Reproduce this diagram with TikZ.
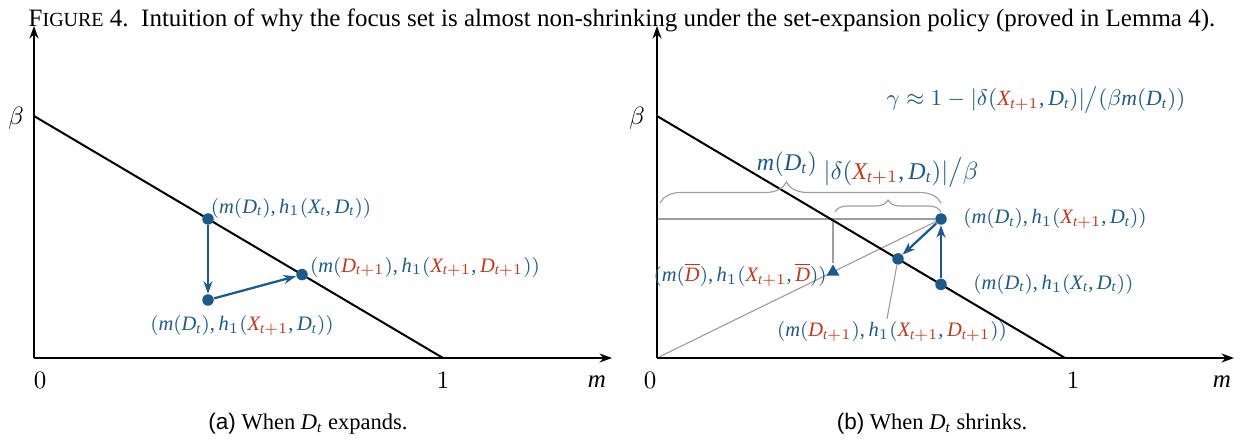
\documentclass[tikz,border=0pt]{standalone}
\usepackage{amsmath}
\usepackage{fontspec}
\setmainfont{Liberation Serif}[NFSSFamily=libserif]
\newfontfamily\subcapfont{Liberation Sans}
% Times-like letters in math
\DeclareSymbolFont{letters}{TU}{libserif}{m}{it}
\DeclareSymbolFont{operators}{TU}{libserif}{m}{n}
\DeclareSymbolFont{grk}{OML}{cmm}{m}{it}
\DeclareMathSymbol{\beta}{\mathalpha}{grk}{"0C}
\DeclareMathSymbol{\gamma}{\mathalpha}{grk}{"0D}
\DeclareMathSymbol{\delta}{\mathalpha}{grk}{"0E}
\mathcode`\,="602C
\mathcode`\/="002F
\delcode`\/="02F30E
\usepackage{tikz}
\usetikzlibrary{arrows.meta,positioning,calc,shapes.geometric,decorations.pathreplacing,backgrounds}
\definecolor{ptblue}{HTML}{1B5A8A}
\definecolor{ptred}{HTML}{C2381B}
\definecolor{guidegray}{HTML}{9E9E9E}
\newcommand{\rd}[1]{{\color{ptred}#1}}

\begin{document}
\begin{tikzpicture}[x=0.4pt, y=0.4pt,
  axis/.style={-{Stealth[length=5pt, width=3.6pt]}, line width=0.8pt},
  budget/.style={line width=0.8pt},
  dot/.style={circle, fill=ptblue, inner sep=0pt, minimum size=4.6pt},
  tri/.style={regular polygon, regular polygon sides=3, fill=ptblue, inner sep=0pt, minimum size=6pt},
  move/.style={-{Stealth[length=5pt, width=3.6pt]}, line width=0.9pt, ptblue},
  guide/.style={guidegray, line width=0.45pt},
  brc/.style={guidegray, line width=0.45pt, decorate, decoration={brace, #1}},
  lbl/.style={text=ptblue, font=\fontsize{8.2}{10}\selectfont, inner sep=1pt},
  big/.style={text=ptblue, font=\fontsize{9.6}{11}\selectfont, inner sep=1pt},
  tick/.style={font=\normalsize, inner sep=0pt}
]
  \useasboundingbox (0,0) rectangle (1240,440);

  \node (fig) at (622,420) {F{\footnotesize IGURE} 4.\enspace Intuition of why the focus set is almost non-shrinking under the set-expansion policy (proved in Lemma 4).};

  % (a) D_t expands
  \coordinate (oa) at (34,82);
  \coordinate (ya) at (34,414);
  \coordinate (xa) at (612,82);
  \coordinate (ba) at (34,324);
  \coordinate (ea) at (443,82);
  \draw[axis] (oa) -- (ya);
  \draw[axis] (oa) -- (xa);
  \draw[budget] (ba) -- (ea);

  \node[tick] (za) at (40,60) {$0$};
  \node[tick] (una) at (443,60) {$1$};
  \node[tick] (ma) at (597,58) {$m$};
  \node[tick] (betaa) at (16,322) {$\beta$};

  \node[dot] (pa1) at (208,221) {};
  \node[dot] (pa2) at (208,140) {};
  \node[dot] (pa3) at (302,165.4) {};
  \draw[move] (pa1) -- (pa2);
  \draw[move] (pa2) -- (pa3);

  \node[lbl, above right=-2.6pt and -1.8pt of pa1] (la1) {$(m(D_t), h_1(X_t, D_t))$};
  \node[lbl, right=-0.5pt of pa3, yshift=3pt] (la3) {$(m(\rd{D_{t+1}}), h_1(\rd{X_{t+1}}, \rd{D_{t+1}}))$};
  \node[lbl, below=2.6pt of pa2, xshift=13.6pt] (la2) {$(m(D_t), h_1(\rd{X_{t+1}}, D_t))$};

  \node[font=\small] (capa) at (308,16) {{\subcapfont (a)} When $D_t$ expands.};

  % (b) D_t shrinks
  \coordinate (ob) at (657,82);
  \coordinate (yb) at (657,414);
  \coordinate (xb) at (1234,82);
  \coordinate (bb) at (657,324);
  \coordinate (eb) at (1065,82);
  \draw[axis] (ob) -- (yb);
  \draw[axis] (ob) -- (xb);
  \draw[budget] (bb) -- (eb);

  \node[tick] (zb) at (650,60) {$0$};
  \node[tick] (unb) at (1073,60) {$1$};
  \node[tick] (mb) at (1222,58) {$m$};
  \node[tick] (betab) at (637,322) {$\beta$};

  \node[dot] (pA) at (941,221) {};
  \node[dot] (pB) at (941,155.6) {};
  \node[dot] (pC) at (898,181.1) {};
  \node[tri] (tbar) at (833,168) {};
  \coordinate (hA) at (657,221);
  \coordinate (vD) at (833,221);

  \node[lbl, right=5.2pt of pA] (lA) {$(m(D_t), h_1(\rd{X_{t+1}}, D_t))$};
  \node[lbl, right=9.2pt of pB] (lB) {$(m(D_t), h_1(X_t, D_t))$};
  \node[lbl, left=-0.6pt of tbar, yshift=-1.2pt] (lbar) {$(m(\rd{\overline{D}}), h_1(\rd{X_{t+1}}, \rd{\overline{D}}))$};
  \node[lbl, below=21.5pt of pC, xshift=-2.4pt] (lC) {$(m(\rd{D_{t+1}}), h_1(\rd{X_{t+1}}, \rd{D_{t+1}}))$};

  \begin{scope}[on background layer]
    \draw[guide] (hA) -- (pA);
    \draw[guide] (ob) -- (pA);
    \draw[guide] (vD) -- (tbar);
    \draw[guide] (pC) -- ([xshift=-2pt]lC.north);
  \end{scope}
  \draw[move] (pB) -- (pA);
  \draw[move] (pA) -- (pC);

  \coordinate (bl) at (660,237);
  \coordinate (br) at (941,237);
  \coordinate (sl) at (835,228);
  \coordinate (sr) at (941,228);
  \draw[brc={amplitude=8.4pt, aspect=0.45}] (bl) -- (br);
  \draw[brc={amplitude=4.8pt}] (sl) -- (sr);
  \node[big] (lmd) at (787,276) {$m(D_t)$};
  \node[big] (lde) at (901,267) {$\lvert\delta(\rd{X_{t+1}}, D_t)\rvert\big/\beta$};
  \node[big, font=\fontsize{8.7}{10}\selectfont] (gam) at (1036,340) {$\gamma \approx 1 - \lvert\delta(\rd{X_{t+1}}, D_t)\rvert\big/(\beta m(D_t))$};

  \node[font=\small] (capb) at (932,16) {{\subcapfont (b)} When $D_t$ shrinks.};
\end{tikzpicture}
\end{document}
